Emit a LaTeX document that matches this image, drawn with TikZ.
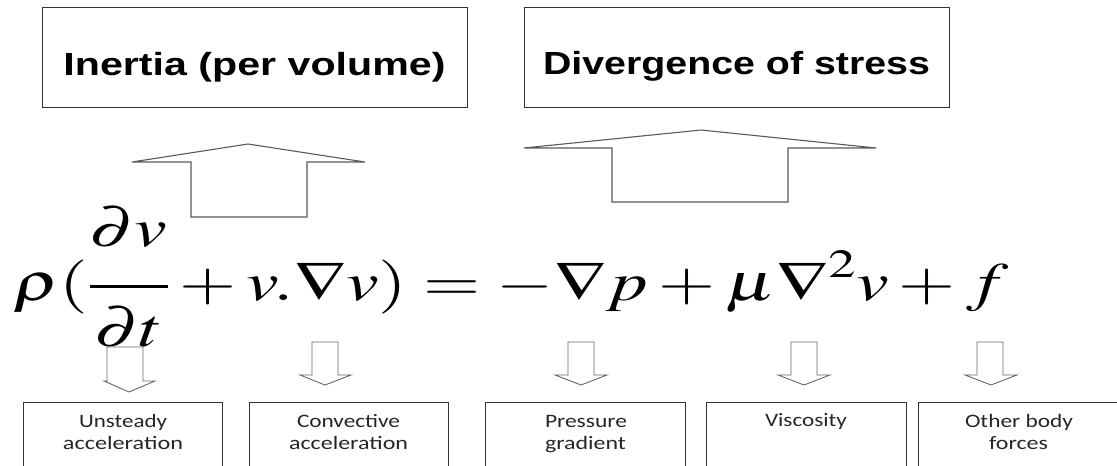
\documentclass[tikz,border=0pt]{standalone}
\usepackage{mathptmx}
\usepackage{graphicx}
\usepackage{fontspec}
\newfontfamily\hdfont{Liberation Sans}
\newfontfamily\lbfont{Carlito}
\newcommand\wfit[2]{\resizebox{#1}{\height}{#2}}
\tikzset{
  frame/.style={draw=black!80, line width=1.2pt, inner sep=0pt, anchor=north west},
  blockarrow/.style={draw=black!65, line width=1.1pt, line join=miter},
  smallarrow/.style={draw=black!60, line width=0.9pt, line join=miter},
  toplabel/.style={inner sep=0pt, anchor=base, font=\hdfont\bfseries\fontsize{32}{38}\selectfont},
  lowlabel/.style={inner sep=0pt, anchor=base, text=black!85, font=\lbfont\fontsize{19}{22}\selectfont},
}
\begin{document}
\begin{tikzpicture}[x=1pt,y=-1pt]
\useasboundingbox (0,0) rectangle (1117,466);
\begin{scope}
\clip (0,0) rectangle (1117,466);
% top boxes
\node[frame, minimum width=425pt, minimum height=100pt] (inertiabox) at (42,7) {};
\node[frame, minimum width=425pt, minimum height=100pt] (stressbox) at (524,7) {};
\node[toplabel] (inertia) at (254.5,75) {\wfit{382pt}{Inertia (per volume)}};
\node[toplabel] (divergence) at (736.5,74) {\wfit{387pt}{Divergence of stress}};
% big block arrows
\draw[blockarrow] (248,144) -- (365,162) -- (307,162) -- (307,217) -- (191,217) -- (191,162) -- (132,162) -- cycle;
\draw[blockarrow] (701,130) -- (876,148) -- (788,148) -- (788,202) -- (612,202) -- (612,148) -- (524,148) -- cycle;
% equation
\node[inner sep=0pt, anchor=base west] (eq) at (13,300)
  {\fontsize{54}{60}\selectfont\wfit{995pt}{$\displaystyle \rho(\frac{\raisebox{17pt}{$\partial v$}}{\rule{0pt}{52pt}\partial t}+v.\nabla v)=-\nabla p+\mu\nabla^{2}v+f$}};
% small down arrows
\draw[smallarrow] (107,347) -- (107,381) -- (104,381) -- (129,392) -- (155,381) -- (143,381) -- (143,347) -- cycle;
\draw[smallarrow] (312,342) -- (312,375) -- (300,375) -- (325,385) -- (351,375) -- (338,375) -- (338,342) -- cycle;
\draw[smallarrow] (568,342) -- (568,375) -- (555,375) -- (581,385) -- (607,375) -- (594,375) -- (594,342) -- cycle;
\draw[smallarrow] (791,342) -- (791,375) -- (778,375) -- (804,385) -- (830,375) -- (817,375) -- (817,342) -- cycle;
\draw[smallarrow] (977,342) -- (977,375) -- (965,375) -- (991,385) -- (1017,375) -- (1003,375) -- (1003,342) -- cycle;
% bottom boxes
\node[frame, minimum width=199pt, minimum height=100pt] (unsteadybox) at (23,402) {};
\node[frame, minimum width=199pt, minimum height=100pt] (convectivebox) at (249,402) {};
\node[frame, minimum width=200pt, minimum height=100pt] (pressurebox) at (485,402) {};
\node[frame, minimum width=200pt, minimum height=100pt] (viscositybox) at (706,402) {};
\node[frame, minimum width=202pt, minimum height=100pt] (otherbox) at (918,402) {};
% bottom labels
\node[lowlabel] (unsteady1) at (123,427) {\wfit{88pt}{Unsteady}};
\node[lowlabel] (unsteady2) at (123,449) {\wfit{120pt}{acceleration}};
\node[lowlabel] (convective1) at (348.5,427) {\wfit{103pt}{Convective}};
\node[lowlabel] (convective2) at (348.5,449) {\wfit{119pt}{acceleration}};
\node[lowlabel] (pressure1) at (586,427) {\wfit{82pt}{Pressure}};
\node[lowlabel] (pressure2) at (585.5,449) {\wfit{81pt}{gradient}};
\node[lowlabel] (viscosity) at (806,426) {\wfit{82pt}{Viscosity}};
\node[lowlabel] (other1) at (1019,427) {\wfit{108pt}{Other body}};
\node[lowlabel] (other2) at (1018.5,449) {\wfit{59pt}{forces}};
\end{scope}
\end{tikzpicture}
\end{document}
